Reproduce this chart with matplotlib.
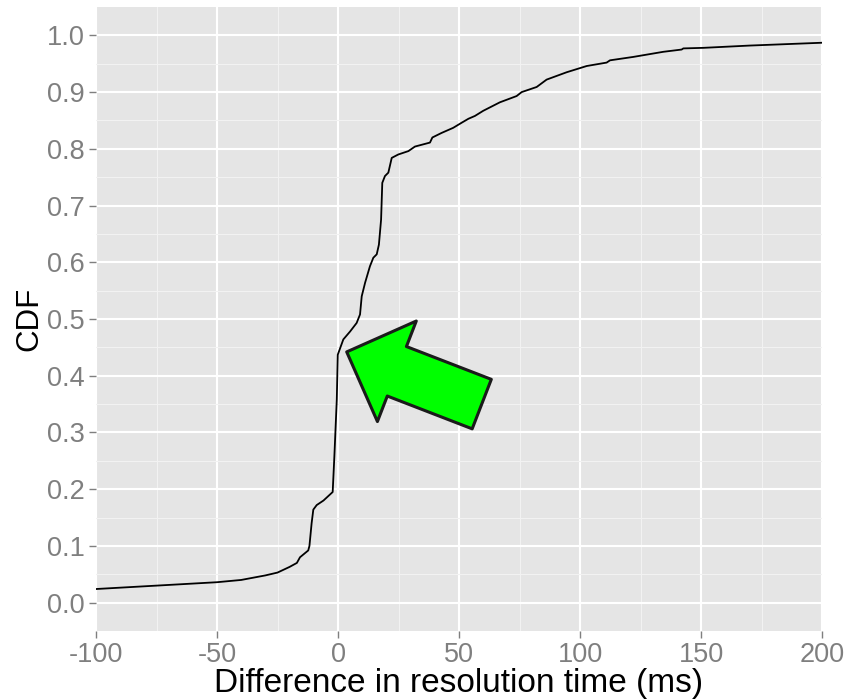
import matplotlib
matplotlib.use('Agg')
import matplotlib.pyplot as plt
import numpy as np

# CDF curve
diff_ms = [-100, -75, -50, -40, -35, -30, -25, -20, -17, -15.7, -12.3, -11.8, -10.9, -10.2,
           -8.8, -6, -2.2, -1.5, -0.5, -0.1, 2.2, 5, 7.7, 9.1, 9.8, 11.2, 13.2, 14.6, 16,
           16.9, 17.8, 18.3, 19.4, 20.8, 22.2, 24.9, 29.1, 31.8, 38, 39, 42.8, 47.6, 51.1,
           53.9, 56.6, 60, 66.9, 73.8, 75.9, 82.1, 86.2, 94.5, 102.8, 111, 112.4, 122,
           134.4, 142, 142.7, 151, 170, 200]
cdf = [0.024, 0.030, 0.036, 0.040, 0.044, 0.048, 0.053, 0.063, 0.070, 0.080, 0.092, 0.100,
       0.140, 0.164, 0.172, 0.180, 0.195, 0.258, 0.358, 0.437, 0.464, 0.478, 0.493, 0.508,
       0.540, 0.564, 0.593, 0.608, 0.614, 0.631, 0.675, 0.740, 0.752, 0.758, 0.784, 0.790,
       0.796, 0.804, 0.811, 0.820, 0.828, 0.837, 0.846, 0.853, 0.858, 0.867, 0.882, 0.893,
       0.900, 0.909, 0.922, 0.935, 0.946, 0.952, 0.956, 0.962, 0.971, 0.975, 0.977, 0.978,
       0.982, 0.987]

x_ticks = [-100, -50, 0, 50, 100, 150, 200]
y_ticks = [0.0, 0.1, 0.2, 0.3, 0.4, 0.5, 0.6, 0.7, 0.8, 0.9, 1.0]

# arrow: tip and tail in data coords
arrow_tip = (3.6, 0.442)
arrow_tail = (59.4, 0.350)

plt.rcParams['font.family'] = ['Liberation Sans Narrow', 'Liberation Sans', 'DejaVu Sans']

fig = plt.figure(figsize=(8.46, 7.0), dpi=100)
ax = fig.add_axes([96 / 846, 1 - 631 / 700, 726 / 846, 624 / 700])
ax.set_facecolor('#E5E5E5')
for s in ax.spines.values():
    s.set_visible(False)

ax.set_xlim(-100, 200)
ax.set_ylim(-0.05, 1.05)
ax.set_xticks(x_ticks)
ax.set_yticks(y_ticks)
ax.set_xticks(np.arange(-75, 200, 50), minor=True)
ax.set_yticks(np.arange(0.05, 1.0, 0.1), minor=True)
ax.set_xticklabels([str(v) for v in x_ticks])
ax.set_yticklabels(['%.1f' % v for v in y_ticks])
ax.grid(which='major', color='white', lw=1.5)
ax.grid(which='minor', color='#F2F2F2', lw=0.8)
ax.set_axisbelow(True)
ax.tick_params(which='major', length=5, width=1, color='#7F7F7F', labelcolor='#7F7F7F',
               labelsize=19.5, pad=3)
ax.tick_params(which='minor', length=0)

ax.plot(diff_ms, cdf, color='black', lw=1.3)

ax.annotate('', xy=arrow_tip, xytext=arrow_tail,
            arrowprops=dict(arrowstyle='simple,head_length=38.7,head_width=77.6,tail_width=38.2',
                            mutation_scale=1, shrinkA=0, shrinkB=0,
                            fc='#00FF00', ec='#1A1A1A', lw=2.2))

ax.set_xlabel('Difference in resolution time (ms)', fontsize=24, labelpad=0)
ax.set_ylabel('CDF', fontsize=22.5, labelpad=2)

fig.savefig('out.png', dpi=100)
